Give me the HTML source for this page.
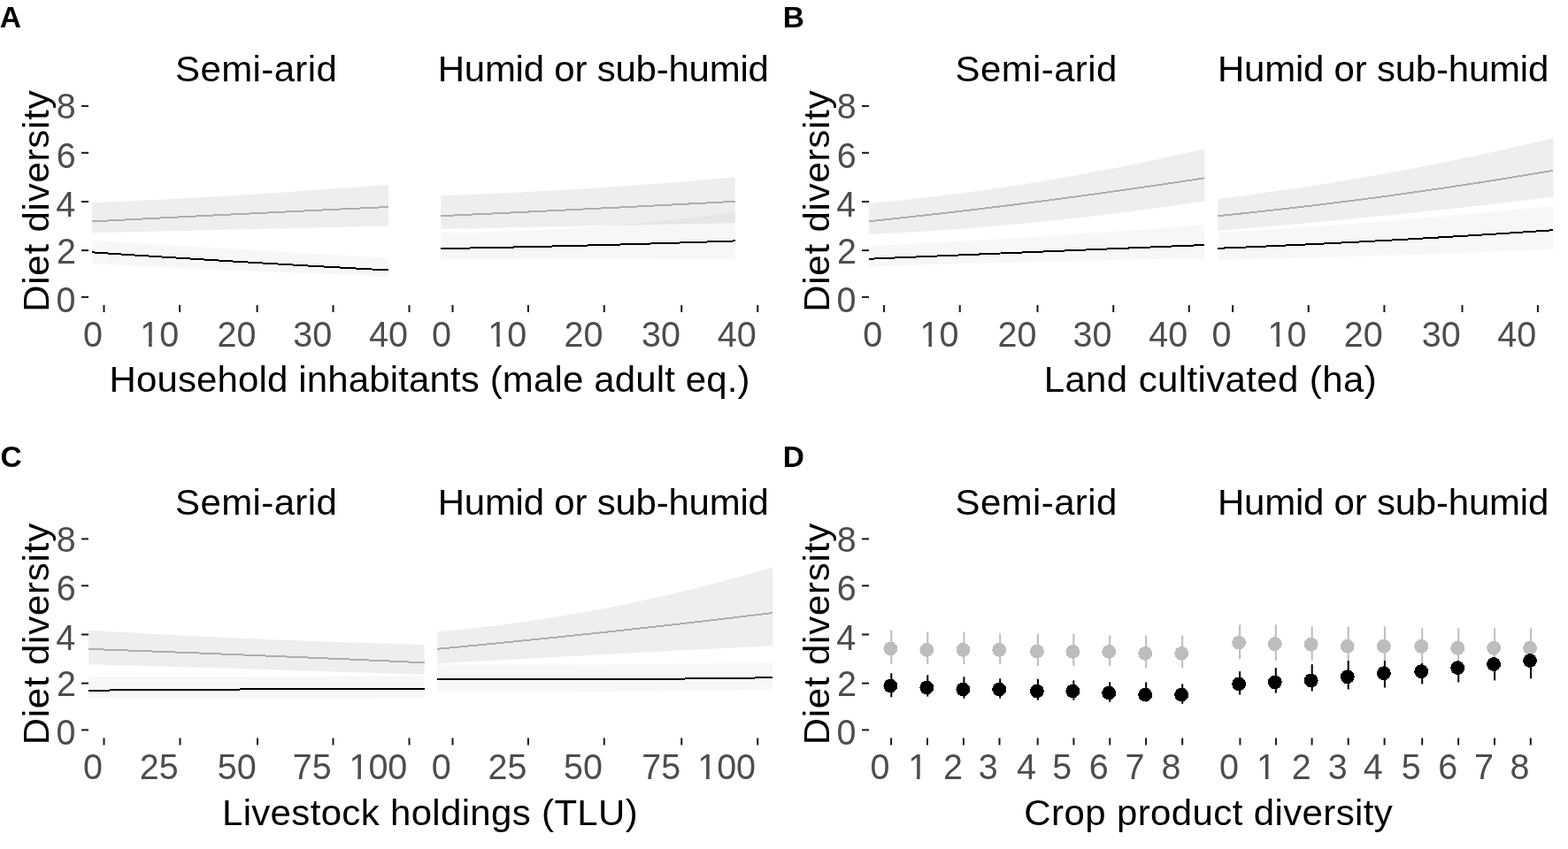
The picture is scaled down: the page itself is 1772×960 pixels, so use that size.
<!DOCTYPE html>
<html><head><meta charset="utf-8"><title>Diet diversity figure</title>
<style>html,body{margin:0;padding:0;background:#fff;}body{width:1772px;height:960px;overflow:hidden;}svg{display:block;}</style>
</head><body>
<svg width="1772" height="960" viewBox="0 0 1772 960">
<rect width="1772" height="960" fill="#fff"/>
<g style="font-family:'Liberation Sans',Arial,sans-serif" stroke-linejoin="round">
<text transform="translate(-0.23 31)" font-size="33.5" fill="#000" font-weight="bold">A</text>
<text transform="translate(884.66 31.25)" font-size="33.5" fill="#000" font-weight="bold">B</text>
<text transform="translate(0.53 528.4)" font-size="33.5" fill="#000" font-weight="bold">C</text>
<text transform="translate(884.66 528.1)" font-size="33.5" fill="#000" font-weight="bold">D</text>
<text transform="translate(198.09 92.2) scale(1 0.97)" font-size="42" fill="#000" textLength="182.71" lengthAdjust="spacing">Semi-arid</text>
<text transform="translate(494.65 92.4) scale(1 0.97)" font-size="42" fill="#000" textLength="374.3" lengthAdjust="spacing">Humid or sub-humid</text>
<text transform="translate(55 352.85) rotate(-90) scale(1 0.97)" font-size="42" fill="#000" textLength="250.53" lengthAdjust="spacing">Diet diversity</text>
<rect x="92" y="118.9" width="8" height="2" fill="#1a1a1a"/>
<text transform="translate(85.72 134.3) scale(1 1.02)" font-size="39.5" fill="#4D4D4D" text-anchor="end">8</text>
<rect x="92" y="171.8" width="8" height="2" fill="#1a1a1a"/>
<text transform="translate(85.74 189.6) scale(1 1.02)" font-size="39.5" fill="#4D4D4D" text-anchor="end">6</text>
<rect x="92" y="227" width="8" height="2" fill="#1a1a1a"/>
<text transform="translate(85.16 245) scale(1 1.02)" font-size="39.5" fill="#4D4D4D" text-anchor="end">4</text>
<rect x="92" y="282.1" width="8" height="2" fill="#1a1a1a"/>
<text transform="translate(85.99 297.8) scale(1 1.02)" font-size="39.5" fill="#4D4D4D" text-anchor="end">2</text>
<rect x="92" y="334.9" width="8" height="2" fill="#1a1a1a"/>
<text transform="translate(85.54 352.7) scale(1 1.02)" font-size="39.5" fill="#4D4D4D" text-anchor="end">0</text>
<text transform="translate(1079.59 92.2) scale(1 0.97)" font-size="42" fill="#000" textLength="182.71" lengthAdjust="spacing">Semi-arid</text>
<text transform="translate(1375.95 92.4) scale(1 0.97)" font-size="42" fill="#000" textLength="374.3" lengthAdjust="spacing">Humid or sub-humid</text>
<text transform="translate(937 352.85) rotate(-90) scale(1 0.97)" font-size="42" fill="#000" textLength="250.53" lengthAdjust="spacing">Diet diversity</text>
<rect x="974" y="118.9" width="8" height="2" fill="#1a1a1a"/>
<text transform="translate(967.72 134.3) scale(1 1.02)" font-size="39.5" fill="#4D4D4D" text-anchor="end">8</text>
<rect x="974" y="171.8" width="8" height="2" fill="#1a1a1a"/>
<text transform="translate(967.74 189.6) scale(1 1.02)" font-size="39.5" fill="#4D4D4D" text-anchor="end">6</text>
<rect x="974" y="227" width="8" height="2" fill="#1a1a1a"/>
<text transform="translate(967.16 245) scale(1 1.02)" font-size="39.5" fill="#4D4D4D" text-anchor="end">4</text>
<rect x="974" y="282.1" width="8" height="2" fill="#1a1a1a"/>
<text transform="translate(967.99 297.8) scale(1 1.02)" font-size="39.5" fill="#4D4D4D" text-anchor="end">2</text>
<rect x="974" y="334.9" width="8" height="2" fill="#1a1a1a"/>
<text transform="translate(967.54 352.7) scale(1 1.02)" font-size="39.5" fill="#4D4D4D" text-anchor="end">0</text>
<text transform="translate(198.09 581.7) scale(1 0.97)" font-size="42" fill="#000" textLength="182.71" lengthAdjust="spacing">Semi-arid</text>
<text transform="translate(494.65 581.9) scale(1 0.97)" font-size="42" fill="#000" textLength="374.3" lengthAdjust="spacing">Humid or sub-humid</text>
<text transform="translate(55 842.35) rotate(-90) scale(1 0.97)" font-size="42" fill="#000" textLength="250.53" lengthAdjust="spacing">Diet diversity</text>
<rect x="92" y="608.4" width="8" height="2" fill="#1a1a1a"/>
<text transform="translate(85.72 623.8) scale(1 1.02)" font-size="39.5" fill="#4D4D4D" text-anchor="end">8</text>
<rect x="92" y="661.3" width="8" height="2" fill="#1a1a1a"/>
<text transform="translate(85.74 679.1) scale(1 1.02)" font-size="39.5" fill="#4D4D4D" text-anchor="end">6</text>
<rect x="92" y="716.5" width="8" height="2" fill="#1a1a1a"/>
<text transform="translate(85.16 734.5) scale(1 1.02)" font-size="39.5" fill="#4D4D4D" text-anchor="end">4</text>
<rect x="92" y="771.6" width="8" height="2" fill="#1a1a1a"/>
<text transform="translate(85.99 787.3) scale(1 1.02)" font-size="39.5" fill="#4D4D4D" text-anchor="end">2</text>
<rect x="92" y="824.4" width="8" height="2" fill="#1a1a1a"/>
<text transform="translate(85.54 842.2) scale(1 1.02)" font-size="39.5" fill="#4D4D4D" text-anchor="end">0</text>
<text transform="translate(1079.59 581.7) scale(1 0.97)" font-size="42" fill="#000" textLength="182.71" lengthAdjust="spacing">Semi-arid</text>
<text transform="translate(1375.95 581.9) scale(1 0.97)" font-size="42" fill="#000" textLength="374.3" lengthAdjust="spacing">Humid or sub-humid</text>
<text transform="translate(937 842.35) rotate(-90) scale(1 0.97)" font-size="42" fill="#000" textLength="250.53" lengthAdjust="spacing">Diet diversity</text>
<rect x="974" y="608.4" width="8" height="2" fill="#1a1a1a"/>
<text transform="translate(967.72 623.8) scale(1 1.02)" font-size="39.5" fill="#4D4D4D" text-anchor="end">8</text>
<rect x="974" y="661.3" width="8" height="2" fill="#1a1a1a"/>
<text transform="translate(967.74 679.1) scale(1 1.02)" font-size="39.5" fill="#4D4D4D" text-anchor="end">6</text>
<rect x="974" y="716.5" width="8" height="2" fill="#1a1a1a"/>
<text transform="translate(967.16 734.5) scale(1 1.02)" font-size="39.5" fill="#4D4D4D" text-anchor="end">4</text>
<rect x="974" y="771.6" width="8" height="2" fill="#1a1a1a"/>
<text transform="translate(967.99 787.3) scale(1 1.02)" font-size="39.5" fill="#4D4D4D" text-anchor="end">2</text>
<rect x="974" y="824.4" width="8" height="2" fill="#1a1a1a"/>
<text transform="translate(967.54 842.2) scale(1 1.02)" font-size="39.5" fill="#4D4D4D" text-anchor="end">0</text>
<rect x="116.5" y="345" width="2" height="8" fill="#1a1a1a"/>
<rect x="202.1" y="345" width="2" height="8" fill="#1a1a1a"/>
<rect x="289.6" y="345" width="2" height="8" fill="#1a1a1a"/>
<rect x="375.5" y="345" width="2" height="8" fill="#1a1a1a"/>
<rect x="461.5" y="345" width="2" height="8" fill="#1a1a1a"/>
<rect x="510.5" y="345" width="2" height="8" fill="#1a1a1a"/>
<rect x="595.9" y="345" width="2" height="8" fill="#1a1a1a"/>
<rect x="681.75" y="345" width="2" height="8" fill="#1a1a1a"/>
<rect x="769.25" y="345" width="2" height="8" fill="#1a1a1a"/>
<rect x="855.25" y="345" width="2" height="8" fill="#1a1a1a"/>
<text transform="translate(115.94 391.7) scale(1 1.02)" font-size="39.5" fill="#4D4D4D" text-anchor="end">0</text>
<clipPath id="c1_1" clipPathUnits="userSpaceOnUse"><rect x="-45.94" y="-60" width="47.94" height="55.75"/><rect x="-34.05" y="-60" width="3.59" height="70"/><rect x="-22.47" y="-60" width="43.94" height="80"/></clipPath>
<text transform="translate(202.14 391.7) scale(1 1.02)" font-size="39.5" fill="#4D4D4D" text-anchor="end" clip-path="url(#c1_1)">10</text>
<text transform="translate(289.54 391.7) scale(1 1.02)" font-size="39.5" fill="#4D4D4D" text-anchor="end">20</text>
<text transform="translate(375.29 391.7) scale(1 1.02)" font-size="39.5" fill="#4D4D4D" text-anchor="end">30</text>
<text transform="translate(460.94 391.7) scale(1 1.02)" font-size="39.5" fill="#4D4D4D" text-anchor="end">40</text>
<text transform="translate(509.94 391.7) scale(1 1.02)" font-size="39.5" fill="#4D4D4D" text-anchor="end">0</text>
<clipPath id="c1_2" clipPathUnits="userSpaceOnUse"><rect x="-45.94" y="-60" width="47.94" height="55.75"/><rect x="-34.05" y="-60" width="3.59" height="70"/><rect x="-22.47" y="-60" width="43.94" height="80"/></clipPath>
<text transform="translate(595.29 391.7) scale(1 1.02)" font-size="39.5" fill="#4D4D4D" text-anchor="end" clip-path="url(#c1_2)">10</text>
<text transform="translate(681.54 391.7) scale(1 1.02)" font-size="39.5" fill="#4D4D4D" text-anchor="end">20</text>
<text transform="translate(769.04 391.7) scale(1 1.02)" font-size="39.5" fill="#4D4D4D" text-anchor="end">30</text>
<text transform="translate(854.64 391.7) scale(1 1.02)" font-size="39.5" fill="#4D4D4D" text-anchor="end">40</text>
<text transform="translate(123.45 443.1) scale(1 0.97)" font-size="42" fill="#000" textLength="724.15" lengthAdjust="spacing">Household inhabitants (male adult eq.)</text>
<polygon points="104.2,229 118.15,228.43 132.09,227.84 146.04,227.23 159.98,226.59 173.93,225.93 187.88,225.24 201.82,224.53 215.77,223.79 229.71,223.03 243.66,222.24 257.6,221.43 271.55,220.6 285.5,219.74 299.44,218.86 313.39,217.95 327.33,217.02 341.28,216.07 355.22,215.09 369.17,214.08 383.12,213.06 397.06,212 411.01,210.93 424.95,209.83 438.9,208.7 438.9,255.7 424.95,256 411.01,256.3 397.06,256.6 383.12,256.9 369.17,257.21 355.22,257.51 341.28,257.82 327.33,258.13 313.39,258.45 299.44,258.76 285.5,259.08 271.55,259.4 257.6,259.72 243.66,260.05 229.71,260.37 215.77,260.7 201.82,261.03 187.88,261.36 173.93,261.7 159.98,262.03 146.04,262.37 132.09,262.71 118.15,263.06 104.2,263.4" fill="#000" fill-opacity="0.065"/>
<polygon points="104.2,271.8 118.15,272.66 132.09,273.52 146.04,274.37 159.98,275.22 173.93,276.07 187.88,276.91 201.82,277.75 215.77,278.59 229.71,279.42 243.66,280.25 257.6,281.08 271.55,281.9 285.5,282.72 299.44,283.53 313.39,284.35 327.33,285.16 341.28,285.96 355.22,286.76 369.17,287.56 383.12,288.36 397.06,289.15 411.01,289.93 424.95,290.72 438.9,291.5 438.9,312.5 424.95,312.04 411.01,311.58 397.06,311.1 383.12,310.61 369.17,310.1 355.22,309.59 341.28,309.06 327.33,308.52 313.39,307.97 299.44,307.41 285.5,306.84 271.55,306.25 257.6,305.65 243.66,305.04 229.71,304.42 215.77,303.79 201.82,303.14 187.88,302.49 173.93,301.82 159.98,301.14 146.04,300.45 132.09,299.74 118.15,299.03 104.2,298.3" fill="#000" fill-opacity="0.032"/>
<polyline points="104.2,285.3 118.15,286.24 132.09,287.17 146.04,288.09 159.98,289 173.93,289.9 187.88,290.8 201.82,291.69 215.77,292.57 229.71,293.44 243.66,294.3 257.6,295.15 271.55,296 285.5,296.84 299.44,297.67 313.39,298.49 327.33,299.3 341.28,300.1 355.22,300.9 369.17,301.69 383.12,302.47 397.06,303.24 411.01,304 424.95,304.75 438.9,305.5" fill="none" stroke="#000" stroke-width="2" shape-rendering="crispEdges"/>
<polyline points="104.2,250.4 118.15,249.68 132.09,248.97 146.04,248.26 159.98,247.56 173.93,246.85 187.88,246.15 201.82,245.45 215.77,244.76 229.71,244.06 243.66,243.37 257.6,242.68 271.55,242 285.5,241.32 299.44,240.64 313.39,239.96 327.33,239.29 341.28,238.62 355.22,237.95 369.17,237.28 383.12,236.62 397.06,235.96 411.01,235.31 424.95,234.65 438.9,234" fill="none" stroke="#aeaeae" stroke-width="2" shape-rendering="crispEdges"/>
<polygon points="498.1,221.1 511.97,220.62 525.83,220.1 539.7,219.55 553.57,218.97 567.43,218.35 581.3,217.7 595.17,217.02 609.03,216.3 622.9,215.55 636.77,214.77 650.63,213.95 664.5,213.1 678.37,212.22 692.23,211.3 706.1,210.35 719.97,209.37 733.83,208.35 747.7,207.3 761.57,206.22 775.43,205.1 789.3,203.95 803.17,202.77 817.03,201.55 830.9,200.3 830.9,252.1 817.03,252.4 803.17,252.69 789.3,252.98 775.43,253.28 761.57,253.57 747.7,253.86 733.83,254.15 719.97,254.44 706.1,254.73 692.23,255.02 678.37,255.31 664.5,255.6 650.63,255.89 636.77,256.17 622.9,256.46 609.03,256.74 595.17,257.03 581.3,257.31 567.43,257.6 553.57,257.88 539.7,258.16 525.83,258.44 511.97,258.72 498.1,259" fill="#000" fill-opacity="0.065"/>
<polygon points="498.1,262.8 511.97,262.76 525.83,262.65 539.7,262.45 553.57,262.17 567.43,261.81 581.3,261.36 595.17,260.84 609.03,260.23 622.9,259.55 636.77,258.78 650.63,257.93 664.5,257 678.37,255.99 692.23,254.9 706.1,253.72 719.97,252.47 733.83,251.13 747.7,249.71 761.57,248.21 775.43,246.63 789.3,244.97 803.17,243.23 817.03,241.41 830.9,239.5 830.9,293.6 817.03,293.5 803.17,293.42 789.3,293.34 775.43,293.27 761.57,293.2 747.7,293.15 733.83,293.1 719.97,293.07 706.1,293.04 692.23,293.02 678.37,293 664.5,293 650.63,293 636.77,293.02 622.9,293.04 609.03,293.07 595.17,293.1 581.3,293.15 567.43,293.2 553.57,293.27 539.7,293.34 525.83,293.42 511.97,293.5 498.1,293.6" fill="#000" fill-opacity="0.032"/>
<polyline points="498.1,281.1 511.97,280.86 525.83,280.6 539.7,280.34 553.57,280.07 567.43,279.78 581.3,279.49 595.17,279.18 609.03,278.87 622.9,278.54 636.77,278.2 650.63,277.86 664.5,277.5 678.37,277.13 692.23,276.75 706.1,276.37 719.97,275.97 733.83,275.56 747.7,275.14 761.57,274.71 775.43,274.27 789.3,273.82 803.17,273.35 817.03,272.88 830.9,272.4" fill="none" stroke="#000" stroke-width="2" shape-rendering="crispEdges"/>
<polyline points="498.1,244.2 511.97,243.56 525.83,242.91 539.7,242.26 553.57,241.61 567.43,240.95 581.3,240.29 595.17,239.62 609.03,238.96 622.9,238.28 636.77,237.61 650.63,236.93 664.5,236.25 678.37,235.56 692.23,234.88 706.1,234.18 719.97,233.49 733.83,232.79 747.7,232.09 761.57,231.38 775.43,230.67 789.3,229.96 803.17,229.24 817.03,228.52 830.9,227.8" fill="none" stroke="#aeaeae" stroke-width="2" shape-rendering="crispEdges"/>
<rect x="998.1" y="345" width="2" height="8" fill="#1a1a1a"/>
<rect x="1083.75" y="345" width="2" height="8" fill="#1a1a1a"/>
<rect x="1171.5" y="345" width="2" height="8" fill="#1a1a1a"/>
<rect x="1257.25" y="345" width="2" height="8" fill="#1a1a1a"/>
<rect x="1342.75" y="345" width="2" height="8" fill="#1a1a1a"/>
<rect x="1392.1" y="345" width="2" height="8" fill="#1a1a1a"/>
<rect x="1477.75" y="345" width="2" height="8" fill="#1a1a1a"/>
<rect x="1563.4" y="345" width="2" height="8" fill="#1a1a1a"/>
<rect x="1651.5" y="345" width="2" height="8" fill="#1a1a1a"/>
<rect x="1736.9" y="345" width="2" height="8" fill="#1a1a1a"/>
<text transform="translate(997.14 391.7) scale(1 1.02)" font-size="39.5" fill="#4D4D4D" text-anchor="end">0</text>
<clipPath id="c1_3" clipPathUnits="userSpaceOnUse"><rect x="-45.94" y="-60" width="47.94" height="55.75"/><rect x="-34.05" y="-60" width="3.59" height="70"/><rect x="-22.47" y="-60" width="43.94" height="80"/></clipPath>
<text transform="translate(1083.44 391.7) scale(1 1.02)" font-size="39.5" fill="#4D4D4D" text-anchor="end" clip-path="url(#c1_3)">10</text>
<text transform="translate(1171.54 391.7) scale(1 1.02)" font-size="39.5" fill="#4D4D4D" text-anchor="end">20</text>
<text transform="translate(1256.54 391.7) scale(1 1.02)" font-size="39.5" fill="#4D4D4D" text-anchor="end">30</text>
<text transform="translate(1342.14 391.7) scale(1 1.02)" font-size="39.5" fill="#4D4D4D" text-anchor="end">40</text>
<text transform="translate(1391.54 391.7) scale(1 1.02)" font-size="39.5" fill="#4D4D4D" text-anchor="end">0</text>
<clipPath id="c1_4" clipPathUnits="userSpaceOnUse"><rect x="-45.94" y="-60" width="47.94" height="55.75"/><rect x="-34.05" y="-60" width="3.59" height="70"/><rect x="-22.47" y="-60" width="43.94" height="80"/></clipPath>
<text transform="translate(1476.54 391.7) scale(1 1.02)" font-size="39.5" fill="#4D4D4D" text-anchor="end" clip-path="url(#c1_4)">10</text>
<text transform="translate(1562.79 391.7) scale(1 1.02)" font-size="39.5" fill="#4D4D4D" text-anchor="end">20</text>
<text transform="translate(1650.64 391.7) scale(1 1.02)" font-size="39.5" fill="#4D4D4D" text-anchor="end">30</text>
<text transform="translate(1736.29 391.7) scale(1 1.02)" font-size="39.5" fill="#4D4D4D" text-anchor="end">40</text>
<text transform="translate(1179.65 443.1) scale(1 0.97)" font-size="42" fill="#000" textLength="376.05" lengthAdjust="spacing">Land cultivated (ha)</text>
<polygon points="981.9,230 997.71,228.52 1013.52,226.94 1029.33,225.27 1045.13,223.5 1060.94,221.64 1076.75,219.68 1092.56,217.62 1108.37,215.47 1124.17,213.22 1139.98,210.87 1155.79,208.44 1171.6,205.9 1187.41,203.27 1203.22,200.54 1219.03,197.72 1234.83,194.8 1250.64,191.79 1266.45,188.68 1282.26,185.47 1298.07,182.17 1313.88,178.77 1329.68,175.28 1345.49,171.69 1361.3,168 1361.3,227.5 1345.49,229.85 1329.68,232.14 1313.88,234.35 1298.07,236.5 1282.26,238.58 1266.45,240.59 1250.64,242.53 1234.83,244.4 1219.03,246.2 1203.22,247.94 1187.41,249.6 1171.6,251.2 1155.79,252.73 1139.98,254.19 1124.17,255.58 1108.37,256.9 1092.56,258.15 1076.75,259.34 1060.94,260.45 1045.13,261.5 1029.33,262.48 1013.52,263.39 997.71,264.23 981.9,265" fill="#000" fill-opacity="0.065"/>
<polygon points="981.9,278.1 997.71,277.32 1013.52,276.52 1029.33,275.7 1045.13,274.87 1060.94,274.01 1076.75,273.14 1092.56,272.24 1108.37,271.33 1124.17,270.4 1139.98,269.45 1155.79,268.49 1171.6,267.5 1187.41,266.49 1203.22,265.47 1219.03,264.43 1234.83,263.37 1250.64,262.29 1266.45,261.19 1282.26,260.07 1298.07,258.93 1313.88,257.78 1329.68,256.6 1345.49,255.41 1361.3,254.2 1361.3,292.5 1345.49,292.68 1329.68,292.89 1313.88,293.11 1298.07,293.34 1282.26,293.6 1266.45,293.88 1250.64,294.17 1234.83,294.48 1219.03,294.81 1203.22,295.15 1187.41,295.52 1171.6,295.9 1155.79,296.3 1139.98,296.72 1124.17,297.16 1108.37,297.61 1092.56,298.08 1076.75,298.57 1060.94,299.08 1045.13,299.61 1029.33,300.16 1013.52,300.72 997.71,301.3 981.9,301.9" fill="#000" fill-opacity="0.032"/>
<polyline points="981.9,292.75 997.71,292.08 1013.52,291.41 1029.33,290.75 1045.13,290.08 1060.94,289.42 1076.75,288.76 1092.56,288.09 1108.37,287.43 1124.17,286.77 1139.98,286.11 1155.79,285.46 1171.6,284.8 1187.41,284.14 1203.22,283.49 1219.03,282.84 1234.83,282.18 1250.64,281.53 1266.45,280.88 1282.26,280.23 1298.07,279.58 1313.88,278.94 1329.68,278.29 1345.49,277.64 1361.3,277" fill="none" stroke="#000" stroke-width="2" shape-rendering="crispEdges"/>
<polyline points="981.9,250.25 997.71,248.6 1013.52,246.91 1029.33,245.19 1045.13,243.44 1060.94,241.65 1076.75,239.83 1092.56,237.98 1108.37,236.09 1124.17,234.17 1139.98,232.21 1155.79,230.22 1171.6,228.2 1187.41,226.14 1203.22,224.05 1219.03,221.93 1234.83,219.77 1250.64,217.58 1266.45,215.36 1282.26,213.1 1298.07,210.81 1313.88,208.48 1329.68,206.12 1345.49,203.73 1361.3,201.3" fill="none" stroke="#aeaeae" stroke-width="2" shape-rendering="crispEdges"/>
<polygon points="1376.2,225 1392,223.01 1407.79,220.95 1423.59,218.81 1439.38,216.59 1455.18,214.3 1470.97,211.92 1486.77,209.48 1502.57,206.96 1518.36,204.36 1534.16,201.68 1549.95,198.93 1565.75,196.1 1581.55,193.2 1597.34,190.21 1613.14,187.16 1628.93,184.02 1644.73,180.81 1660.53,177.52 1676.32,174.16 1692.12,170.72 1707.91,167.21 1723.71,163.61 1739.5,159.95 1755.3,156.2 1755.3,222.7 1739.5,224.61 1723.71,226.49 1707.91,228.34 1692.12,230.16 1676.32,231.96 1660.53,233.72 1644.73,235.47 1628.93,237.18 1613.14,238.86 1597.34,240.52 1581.55,242.15 1565.75,243.75 1549.95,245.32 1534.16,246.87 1518.36,248.39 1502.57,249.88 1486.77,251.34 1470.97,252.78 1455.18,254.18 1439.38,255.56 1423.59,256.91 1407.79,258.24 1392,259.53 1376.2,260.8" fill="#000" fill-opacity="0.065"/>
<polygon points="1376.2,263.3 1392,262.34 1407.79,261.36 1423.59,260.35 1439.38,259.31 1455.18,258.24 1470.97,257.15 1486.77,256.03 1502.57,254.88 1518.36,253.7 1534.16,252.49 1549.95,251.26 1565.75,250 1581.55,248.71 1597.34,247.39 1613.14,246.05 1628.93,244.68 1644.73,243.28 1660.53,241.85 1676.32,240.39 1692.12,238.91 1707.91,237.4 1723.71,235.86 1739.5,234.29 1755.3,232.7 1755.3,281.8 1739.5,282.48 1723.71,283.14 1707.91,283.79 1692.12,284.42 1676.32,285.04 1660.53,285.65 1644.73,286.24 1628.93,286.82 1613.14,287.39 1597.34,287.94 1581.55,288.48 1565.75,289 1549.95,289.51 1534.16,290.01 1518.36,290.49 1502.57,290.96 1486.77,291.41 1470.97,291.85 1455.18,292.28 1439.38,292.69 1423.59,293.09 1407.79,293.47 1392,293.84 1376.2,294.2" fill="#000" fill-opacity="0.032"/>
<polyline points="1376.2,280.8 1392,280.17 1407.79,279.51 1423.59,278.84 1439.38,278.14 1455.18,277.43 1470.97,276.7 1486.77,275.95 1502.57,275.18 1518.36,274.39 1534.16,273.58 1549.95,272.75 1565.75,271.9 1581.55,271.03 1597.34,270.14 1613.14,269.24 1628.93,268.31 1644.73,267.37 1660.53,266.4 1676.32,265.42 1692.12,264.41 1707.91,263.39 1723.71,262.34 1739.5,261.28 1755.3,260.2" fill="none" stroke="#000" stroke-width="2" shape-rendering="crispEdges"/>
<polyline points="1376.2,244.2 1392,242.6 1407.79,240.96 1423.59,239.26 1439.38,237.52 1455.18,235.73 1470.97,233.9 1486.77,232.02 1502.57,230.09 1518.36,228.11 1534.16,226.09 1549.95,224.02 1565.75,221.9 1581.55,219.73 1597.34,217.52 1613.14,215.26 1628.93,212.96 1644.73,210.6 1660.53,208.2 1676.32,205.75 1692.12,203.26 1707.91,200.71 1723.71,198.12 1739.5,195.48 1755.3,192.8" fill="none" stroke="#aeaeae" stroke-width="2" shape-rendering="crispEdges"/>
<rect x="116.5" y="834.5" width="2" height="8" fill="#1a1a1a"/>
<rect x="202.5" y="834.5" width="2" height="8" fill="#1a1a1a"/>
<rect x="290" y="834.5" width="2" height="8" fill="#1a1a1a"/>
<rect x="375.5" y="834.5" width="2" height="8" fill="#1a1a1a"/>
<rect x="461.5" y="834.5" width="2" height="8" fill="#1a1a1a"/>
<rect x="510.5" y="834.5" width="2" height="8" fill="#1a1a1a"/>
<rect x="595.9" y="834.5" width="2" height="8" fill="#1a1a1a"/>
<rect x="681.75" y="834.5" width="2" height="8" fill="#1a1a1a"/>
<rect x="769.25" y="834.5" width="2" height="8" fill="#1a1a1a"/>
<rect x="855.25" y="834.5" width="2" height="8" fill="#1a1a1a"/>
<text transform="translate(115.94 881.2) scale(1 1.02)" font-size="39.5" fill="#4D4D4D" text-anchor="end">0</text>
<text transform="translate(201.66 881.2) scale(1 1.02)" font-size="39.5" fill="#4D4D4D" text-anchor="end">25</text>
<text transform="translate(289.64 881.2) scale(1 1.02)" font-size="39.5" fill="#4D4D4D" text-anchor="end">50</text>
<text transform="translate(374.76 881.2) scale(1 1.02)" font-size="39.5" fill="#4D4D4D" text-anchor="end">75</text>
<clipPath id="c1_5" clipPathUnits="userSpaceOnUse"><rect x="-67.9" y="-60" width="69.9" height="55.75"/><rect x="-56.02" y="-60" width="3.59" height="70"/><rect x="-44.44" y="-60" width="65.9" height="80"/></clipPath>
<text transform="translate(460.29 881.2) scale(1 1.02)" font-size="39.5" fill="#4D4D4D" text-anchor="end" clip-path="url(#c1_5)">100</text>
<text transform="translate(509.64 881.2) scale(1 1.02)" font-size="39.5" fill="#4D4D4D" text-anchor="end">0</text>
<text transform="translate(595.41 881.2) scale(1 1.02)" font-size="39.5" fill="#4D4D4D" text-anchor="end">25</text>
<text transform="translate(680.94 881.2) scale(1 1.02)" font-size="39.5" fill="#4D4D4D" text-anchor="end">50</text>
<text transform="translate(769.16 881.2) scale(1 1.02)" font-size="39.5" fill="#4D4D4D" text-anchor="end">75</text>
<clipPath id="c1_6" clipPathUnits="userSpaceOnUse"><rect x="-67.9" y="-60" width="69.9" height="55.75"/><rect x="-56.02" y="-60" width="3.59" height="70"/><rect x="-44.44" y="-60" width="65.9" height="80"/></clipPath>
<text transform="translate(854.04 881.2) scale(1 1.02)" font-size="39.5" fill="#4D4D4D" text-anchor="end" clip-path="url(#c1_6)">100</text>
<text transform="translate(250.95 932.6) scale(1 0.97)" font-size="42" fill="#000" textLength="469.75" lengthAdjust="spacing">Livestock holdings (TLU)</text>
<polygon points="100.1,712.5 115.91,713.45 131.72,714.39 147.54,715.29 163.35,716.18 179.16,717.04 194.97,717.88 210.79,718.69 226.6,719.48 242.41,720.24 258.23,720.99 274.04,721.7 289.85,722.4 305.66,723.07 321.48,723.72 337.29,724.34 353.1,724.94 368.91,725.52 384.73,726.07 400.54,726.6 416.35,727.11 432.16,727.59 447.98,728.05 463.79,728.49 479.6,728.9 479.6,762.9 463.79,762.37 447.98,761.84 432.16,761.32 416.35,760.8 400.54,760.29 384.73,759.77 368.91,759.27 353.1,758.77 337.29,758.27 321.48,757.77 305.66,757.29 289.85,756.8 274.04,756.32 258.23,755.84 242.41,755.37 226.6,754.9 210.79,754.44 194.97,753.97 179.16,753.52 163.35,753.07 147.54,752.62 131.72,752.18 115.91,751.74 100.1,751.3" fill="#000" fill-opacity="0.065"/>
<polygon points="100.1,765.2 115.91,765.22 131.72,765.24 147.54,765.25 163.35,765.26 179.16,765.26 194.97,765.25 210.79,765.24 226.6,765.22 242.41,765.2 258.23,765.17 274.04,765.14 289.85,765.1 305.66,765.06 321.48,765.01 337.29,764.95 353.1,764.89 368.91,764.82 384.73,764.75 400.54,764.67 416.35,764.59 432.16,764.5 447.98,764.41 463.79,764.31 479.6,764.2 479.6,789 463.79,789.2 447.98,789.38 432.16,789.54 416.35,789.69 400.54,789.82 384.73,789.94 368.91,790.04 353.1,790.12 337.29,790.19 321.48,790.24 305.66,790.28 289.85,790.3 274.04,790.3 258.23,790.29 242.41,790.27 226.6,790.22 210.79,790.16 194.97,790.09 179.16,790 163.35,789.89 147.54,789.77 131.72,789.63 115.91,789.47 100.1,789.3" fill="#000" fill-opacity="0.032"/>
<polyline points="100.1,780.7 115.91,780.57 131.72,780.45 147.54,780.33 163.35,780.21 179.16,780.1 194.97,779.99 210.79,779.88 226.6,779.78 242.41,779.68 258.23,779.58 274.04,779.49 289.85,779.4 305.66,779.31 321.48,779.23 337.29,779.15 353.1,779.08 368.91,779.01 384.73,778.94 400.54,778.87 416.35,778.81 432.16,778.75 447.98,778.7 463.79,778.65 479.6,778.6" fill="none" stroke="#000" stroke-width="2" shape-rendering="crispEdges"/>
<polyline points="100.1,733.9 115.91,734.46 131.72,735.03 147.54,735.61 163.35,736.19 179.16,736.78 194.97,737.38 210.79,737.98 226.6,738.59 242.41,739.21 258.23,739.83 274.04,740.46 289.85,741.1 305.66,741.75 321.48,742.4 337.29,743.06 353.1,743.72 368.91,744.4 384.73,745.08 400.54,745.76 416.35,746.46 432.16,747.16 447.98,747.86 463.79,748.58 479.6,749.3" fill="none" stroke="#aeaeae" stroke-width="2" shape-rendering="crispEdges"/>
<polygon points="494.2,714.3 510,712.86 525.8,711.27 541.6,709.55 557.4,707.69 573.2,705.69 589,703.55 604.8,701.27 620.6,698.86 636.4,696.3 652.2,693.61 668,690.77 683.8,687.8 699.6,684.69 715.4,681.44 731.2,678.05 747,674.52 762.8,670.86 778.6,667.05 794.4,663.11 810.2,659.02 826,654.8 841.8,650.44 857.6,645.94 873.4,641.3 873.4,730.2 857.6,730.99 841.8,731.79 826,732.59 810.2,733.4 794.4,734.21 778.6,735.03 762.8,735.84 747,736.67 731.2,737.49 715.4,738.33 699.6,739.16 683.8,740 668,740.84 652.2,741.69 636.4,742.54 620.6,743.4 604.8,744.26 589,745.12 573.2,745.99 557.4,746.87 541.6,747.74 525.8,748.62 510,749.51 494.2,750.4" fill="#000" fill-opacity="0.065"/>
<polygon points="494.2,751.5 510,751.54 525.8,751.57 541.6,751.58 557.4,751.59 573.2,751.58 589,751.56 604.8,751.53 620.6,751.49 636.4,751.43 652.2,751.37 668,751.29 683.8,751.2 699.6,751.1 715.4,750.98 731.2,750.86 747,750.72 762.8,750.57 778.6,750.41 794.4,750.24 810.2,750.06 826,749.86 841.8,749.65 857.6,749.43 873.4,749.2 873.4,780 857.6,780.23 841.8,780.44 826,780.65 810.2,780.84 794.4,781.03 778.6,781.2 762.8,781.36 747,781.51 731.2,781.65 715.4,781.78 699.6,781.89 683.8,782 668,782.09 652.2,782.18 636.4,782.25 620.6,782.31 604.8,782.36 589,782.4 573.2,782.43 557.4,782.44 541.6,782.45 525.8,782.44 510,782.43 494.2,782.4" fill="#000" fill-opacity="0.032"/>
<polyline points="494.2,768.1 510,768.19 525.8,768.26 541.6,768.32 557.4,768.37 573.2,768.4 589,768.41 604.8,768.41 620.6,768.4 636.4,768.37 652.2,768.33 668,768.27 683.8,768.2 699.6,768.11 715.4,768.01 731.2,767.9 747,767.77 762.8,767.62 778.6,767.46 794.4,767.29 810.2,767.1 826,766.9 841.8,766.68 857.6,766.45 873.4,766.2" fill="none" stroke="#000" stroke-width="2" shape-rendering="crispEdges"/>
<polyline points="494.2,733.8 510,732.32 525.8,730.83 541.6,729.31 557.4,727.78 573.2,726.22 589,724.65 604.8,723.06 620.6,721.44 636.4,719.81 652.2,718.16 668,716.49 683.8,714.8 699.6,713.09 715.4,711.36 731.2,709.61 747,707.84 762.8,706.06 778.6,704.25 794.4,702.42 810.2,700.58 826,698.71 841.8,696.83 857.6,694.92 873.4,693" fill="none" stroke="#aeaeae" stroke-width="2" shape-rendering="crispEdges"/>
<rect x="1006.1" y="834.5" width="2" height="8" fill="#1a1a1a"/>
<rect x="1047" y="834.5" width="2" height="8" fill="#1a1a1a"/>
<rect x="1087.9" y="834.5" width="2" height="8" fill="#1a1a1a"/>
<rect x="1128.5" y="834.5" width="2" height="8" fill="#1a1a1a"/>
<rect x="1171.7" y="834.5" width="2" height="8" fill="#1a1a1a"/>
<rect x="1212.4" y="834.5" width="2" height="8" fill="#1a1a1a"/>
<rect x="1253.25" y="834.5" width="2" height="8" fill="#1a1a1a"/>
<rect x="1294.1" y="834.5" width="2" height="8" fill="#1a1a1a"/>
<rect x="1335.2" y="834.5" width="2" height="8" fill="#1a1a1a"/>
<rect x="1400.4" y="834.5" width="2" height="8" fill="#1a1a1a"/>
<rect x="1441" y="834.5" width="2" height="8" fill="#1a1a1a"/>
<rect x="1481.6" y="834.5" width="2" height="8" fill="#1a1a1a"/>
<rect x="1522.7" y="834.5" width="2" height="8" fill="#1a1a1a"/>
<rect x="1563.6" y="834.5" width="2" height="8" fill="#1a1a1a"/>
<rect x="1606.2" y="834.5" width="2" height="8" fill="#1a1a1a"/>
<rect x="1647.1" y="834.5" width="2" height="8" fill="#1a1a1a"/>
<rect x="1688" y="834.5" width="2" height="8" fill="#1a1a1a"/>
<rect x="1728.8" y="834.5" width="2" height="8" fill="#1a1a1a"/>
<text transform="translate(1005.54 881.2) scale(1 1.02)" font-size="39.5" fill="#4D4D4D" text-anchor="end">0</text>
<clipPath id="c1_7" clipPathUnits="userSpaceOnUse"><rect x="-23.97" y="-60" width="25.97" height="55.75"/><rect x="-12.09" y="-60" width="3.59" height="70"/><rect x="-0.5" y="-60" width="21.97" height="80"/></clipPath>
<text transform="translate(1048.14 881.2) scale(1 1.02)" font-size="39.5" fill="#4D4D4D" text-anchor="end" clip-path="url(#c1_7)">1</text>
<text transform="translate(1087.89 881.2) scale(1 1.02)" font-size="39.5" fill="#4D4D4D" text-anchor="end">2</text>
<text transform="translate(1127.64 881.2) scale(1 1.02)" font-size="39.5" fill="#4D4D4D" text-anchor="end">3</text>
<text transform="translate(1171.06 881.2) scale(1 1.02)" font-size="39.5" fill="#4D4D4D" text-anchor="end">4</text>
<text transform="translate(1211.26 881.2) scale(1 1.02)" font-size="39.5" fill="#4D4D4D" text-anchor="end">5</text>
<text transform="translate(1252.64 881.2) scale(1 1.02)" font-size="39.5" fill="#4D4D4D" text-anchor="end">6</text>
<text transform="translate(1293.49 881.2) scale(1 1.02)" font-size="39.5" fill="#4D4D4D" text-anchor="end">7</text>
<text transform="translate(1334.52 881.2) scale(1 1.02)" font-size="39.5" fill="#4D4D4D" text-anchor="end">8</text>
<text transform="translate(1399.94 881.2) scale(1 1.02)" font-size="39.5" fill="#4D4D4D" text-anchor="end">0</text>
<clipPath id="c1_8" clipPathUnits="userSpaceOnUse"><rect x="-23.97" y="-60" width="25.97" height="55.75"/><rect x="-12.09" y="-60" width="3.59" height="70"/><rect x="-0.5" y="-60" width="21.97" height="80"/></clipPath>
<text transform="translate(1441.94 881.2) scale(1 1.02)" font-size="39.5" fill="#4D4D4D" text-anchor="end" clip-path="url(#c1_8)">1</text>
<text transform="translate(1481.69 881.2) scale(1 1.02)" font-size="39.5" fill="#4D4D4D" text-anchor="end">2</text>
<text transform="translate(1522.74 881.2) scale(1 1.02)" font-size="39.5" fill="#4D4D4D" text-anchor="end">3</text>
<text transform="translate(1562.76 881.2) scale(1 1.02)" font-size="39.5" fill="#4D4D4D" text-anchor="end">4</text>
<text transform="translate(1605.76 881.2) scale(1 1.02)" font-size="39.5" fill="#4D4D4D" text-anchor="end">5</text>
<text transform="translate(1647.14 881.2) scale(1 1.02)" font-size="39.5" fill="#4D4D4D" text-anchor="end">6</text>
<text transform="translate(1687.99 881.2) scale(1 1.02)" font-size="39.5" fill="#4D4D4D" text-anchor="end">7</text>
<text transform="translate(1728.42 881.2) scale(1 1.02)" font-size="39.5" fill="#4D4D4D" text-anchor="end">8</text>
<text transform="translate(1157.37 932.5) scale(1 0.97)" font-size="42" fill="#000" textLength="416.51" lengthAdjust="spacing">Crop product diversity</text>
<rect x="1006.3" y="712.5" width="2" height="38.6" fill="#bdbdbd"/>
<circle cx="1006.3" cy="733.5" r="7.9" fill="#bdbdbd" shape-rendering="crispEdges"/>
<rect x="1047.3" y="714.5" width="2" height="36.6" fill="#bdbdbd"/>
<circle cx="1047.3" cy="734.8" r="7.9" fill="#bdbdbd" shape-rendering="crispEdges"/>
<rect x="1088.4" y="714.5" width="2" height="36.6" fill="#bdbdbd"/>
<circle cx="1088.4" cy="734.8" r="7.9" fill="#bdbdbd" shape-rendering="crispEdges"/>
<rect x="1129.2" y="716.6" width="2" height="34.5" fill="#bdbdbd"/>
<circle cx="1129.2" cy="734.8" r="7.9" fill="#bdbdbd" shape-rendering="crispEdges"/>
<rect x="1171.9" y="716.6" width="2" height="36.5" fill="#bdbdbd"/>
<circle cx="1171.9" cy="736.5" r="7.9" fill="#bdbdbd" shape-rendering="crispEdges"/>
<rect x="1212.3" y="716.6" width="2" height="36.5" fill="#bdbdbd"/>
<circle cx="1212.3" cy="736.9" r="7.9" fill="#bdbdbd" shape-rendering="crispEdges"/>
<rect x="1253.2" y="718.6" width="2" height="34.5" fill="#bdbdbd"/>
<circle cx="1253.2" cy="736.9" r="7.9" fill="#bdbdbd" shape-rendering="crispEdges"/>
<rect x="1294.2" y="718.6" width="2" height="36.5" fill="#bdbdbd"/>
<circle cx="1294.2" cy="738.9" r="7.9" fill="#bdbdbd" shape-rendering="crispEdges"/>
<rect x="1335.2" y="718.6" width="2" height="36.5" fill="#bdbdbd"/>
<circle cx="1335.2" cy="738.9" r="7.9" fill="#bdbdbd" shape-rendering="crispEdges"/>
<rect x="1006.3" y="761.2" width="2" height="27.1" fill="#000"/>
<circle cx="1006.3" cy="775.5" r="7.9" fill="#000" shape-rendering="crispEdges"/>
<rect x="1047.3" y="763.3" width="2" height="24.3" fill="#000"/>
<circle cx="1047.3" cy="777.5" r="7.9" fill="#000" shape-rendering="crispEdges"/>
<rect x="1088.4" y="765.3" width="2" height="24.4" fill="#000"/>
<circle cx="1088.4" cy="779.5" r="7.9" fill="#000" shape-rendering="crispEdges"/>
<rect x="1129.2" y="767.3" width="2" height="22.4" fill="#000"/>
<circle cx="1129.2" cy="779.5" r="7.9" fill="#000" shape-rendering="crispEdges"/>
<rect x="1171.9" y="767.7" width="2" height="24" fill="#000"/>
<circle cx="1171.9" cy="781.5" r="7.9" fill="#000" shape-rendering="crispEdges"/>
<rect x="1212.3" y="769.4" width="2" height="22.3" fill="#000"/>
<circle cx="1212.3" cy="781.5" r="7.9" fill="#000" shape-rendering="crispEdges"/>
<rect x="1253.2" y="771.4" width="2" height="22.3" fill="#000"/>
<circle cx="1253.2" cy="783.6" r="7.9" fill="#000" shape-rendering="crispEdges"/>
<rect x="1294.2" y="771.4" width="2" height="22.1" fill="#000"/>
<circle cx="1294.2" cy="785.6" r="7.9" fill="#000" shape-rendering="crispEdges"/>
<rect x="1335.2" y="773.4" width="2" height="22.4" fill="#000"/>
<circle cx="1335.2" cy="785.6" r="7.9" fill="#000" shape-rendering="crispEdges"/>
<rect x="1400.1" y="706.4" width="2" height="38.6" fill="#bdbdbd"/>
<circle cx="1400.1" cy="726.7" r="7.9" fill="#bdbdbd" shape-rendering="crispEdges"/>
<rect x="1440.8" y="706.4" width="2" height="40.6" fill="#bdbdbd"/>
<circle cx="1440.8" cy="728.1" r="7.9" fill="#bdbdbd" shape-rendering="crispEdges"/>
<rect x="1481.7" y="708.4" width="2" height="38.6" fill="#bdbdbd"/>
<circle cx="1481.7" cy="728.7" r="7.9" fill="#bdbdbd" shape-rendering="crispEdges"/>
<rect x="1522.7" y="708.4" width="2" height="39.6" fill="#bdbdbd"/>
<circle cx="1522.7" cy="730.8" r="7.9" fill="#bdbdbd" shape-rendering="crispEdges"/>
<rect x="1563.9" y="708.4" width="2" height="39.6" fill="#bdbdbd"/>
<circle cx="1563.9" cy="730.8" r="7.9" fill="#bdbdbd" shape-rendering="crispEdges"/>
<rect x="1606.2" y="710.5" width="2" height="38.5" fill="#bdbdbd"/>
<circle cx="1606.2" cy="730.8" r="7.9" fill="#bdbdbd" shape-rendering="crispEdges"/>
<rect x="1647.2" y="710.5" width="2" height="38.5" fill="#bdbdbd"/>
<circle cx="1647.2" cy="732.8" r="7.9" fill="#bdbdbd" shape-rendering="crispEdges"/>
<rect x="1688.1" y="710.5" width="2" height="38.5" fill="#bdbdbd"/>
<circle cx="1688.1" cy="732.8" r="7.9" fill="#bdbdbd" shape-rendering="crispEdges"/>
<rect x="1729" y="710.5" width="2" height="38.5" fill="#bdbdbd"/>
<circle cx="1729" cy="732.8" r="7.9" fill="#bdbdbd" shape-rendering="crispEdges"/>
<rect x="1400.1" y="759.2" width="2" height="26.4" fill="#000"/>
<circle cx="1400.1" cy="773.4" r="7.9" fill="#000" shape-rendering="crispEdges"/>
<rect x="1440.8" y="755.1" width="2" height="28.5" fill="#000"/>
<circle cx="1440.8" cy="771.4" r="7.9" fill="#000" shape-rendering="crispEdges"/>
<rect x="1481.7" y="751.1" width="2" height="30.4" fill="#000"/>
<circle cx="1481.7" cy="769.4" r="7.9" fill="#000" shape-rendering="crispEdges"/>
<rect x="1522.7" y="747" width="2" height="32.5" fill="#000"/>
<circle cx="1522.7" cy="765.3" r="7.9" fill="#000" shape-rendering="crispEdges"/>
<rect x="1563.9" y="747" width="2" height="30.5" fill="#000"/>
<circle cx="1563.9" cy="761.2" r="7.9" fill="#000" shape-rendering="crispEdges"/>
<rect x="1606.2" y="749.7" width="2" height="23.7" fill="#000"/>
<circle cx="1606.2" cy="759.2" r="7.9" fill="#000" shape-rendering="crispEdges"/>
<rect x="1647.2" y="747" width="2" height="24.4" fill="#000"/>
<circle cx="1647.2" cy="755.1" r="7.9" fill="#000" shape-rendering="crispEdges"/>
<rect x="1688.1" y="743" width="2" height="26.4" fill="#000"/>
<circle cx="1688.1" cy="751.1" r="7.9" fill="#000" shape-rendering="crispEdges"/>
<rect x="1729" y="740.9" width="2" height="26.4" fill="#000"/>
<circle cx="1729" cy="747" r="7.9" fill="#000" shape-rendering="crispEdges"/>
</g></svg>
</body></html>
